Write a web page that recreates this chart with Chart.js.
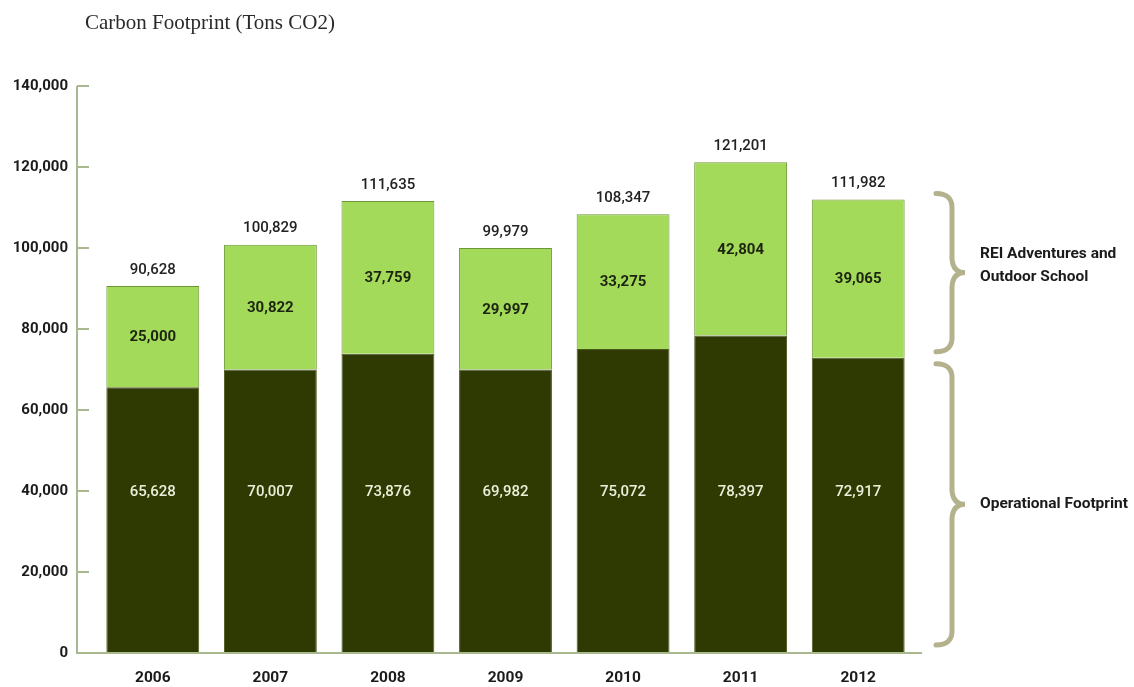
<!DOCTYPE html>
<html>
<head>
<meta charset="utf-8">
<script src="https://cdn.jsdelivr.net/npm/chart.js@4/dist/chart.umd.min.js"></script>
<style>
  html, body { margin: 0; padding: 0; background: #fff; }
  #wrap { width: 1134px; height: 687px; position: relative; }
</style>
</head>
<body>
<div id="wrap"><canvas id="carbonChart"></canvas></div>
<script>
// datos
const years = ['2006', '2007', '2008', '2009', '2010', '2011', '2012'];
const operational = [65628, 70007, 73876, 69982, 75072, 78397, 72917];
const adventures = [25000, 30822, 37759, 29997, 33275, 42804, 39065];
const totals = [90628, 100829, 111635, 99979, 108347, 121201, 111982];
const yTicks = [0, 20000, 40000, 60000, 80000, 100000, 120000, 140000];
const seriesNames = ['Operational Footprint', ['REI Adventures and', 'Outdoor School']];

const NUM_FONT = 'Roboto, "DejaVu Sans", sans-serif';
const AXIS_COLOR = '#a9b98f';
const BRACE_COLOR = '#b4b28c';

function fmt(v) { return v.toLocaleString('en-US'); }

// MARK: eje, títulos, etiquetas y llaves
const annotations = {
  id: 'annotations',
  afterDatasetsDraw(chart) {
    const ctx = chart.ctx;
    const area = chart.chartArea;
    const y = chart.scales.y;
    const axisX = area.left - 17;

    ctx.save();
    // eje Y con marcas hacia dentro
    ctx.strokeStyle = AXIS_COLOR;
    ctx.lineWidth = 2;
    ctx.beginPath();
    ctx.moveTo(axisX, y.getPixelForValue(140000));
    ctx.lineTo(axisX, area.bottom);
    ctx.lineTo(area.right + 5, area.bottom);
    yTicks.forEach(t => {
      if (t === 0) return;
      const py = y.getPixelForValue(t);
      ctx.moveTo(axisX, py);
      ctx.lineTo(axisX + 12, py);
    });
    ctx.stroke();

    // título
    ctx.fillStyle = '#2a2a2a';
    ctx.font = '21px "Liberation Serif", serif';
    ctx.textAlign = 'left';
    ctx.textBaseline = 'middle';
    ctx.fillText('Carbon Footprint (Tons CO2)', 85, 23);

    // valores de las barras
    const darkMeta = chart.getDatasetMeta(0);
    const lightMeta = chart.getDatasetMeta(1);
    ctx.textAlign = 'center';
    darkMeta.data.forEach((bar, i) => {
      ctx.fillStyle = '#e9efd9';
      ctx.font = '500 15px ' + NUM_FONT;
      ctx.fillText(fmt(operational[i]), bar.x, y.getPixelForValue(40000) + 1);

      const lb = lightMeta.data[i];
      ctx.fillStyle = '#1d2410';
      ctx.font = 'bold 15px ' + NUM_FONT;
      ctx.fillText(fmt(adventures[i]), lb.x, (lb.y + lb.base) / 2 + 1);

      ctx.fillStyle = '#222';
      ctx.font = '500 15px ' + NUM_FONT;
      ctx.fillText(fmt(totals[i]), lb.x, lb.y - 16);
    });

    // llaves a la derecha, según la última barra
    const last = years.length - 1;
    const bx = area.right + 22;
    const upTop = y.getPixelForValue(totals[last]) - 6;
    const upBottom = y.getPixelForValue(operational[last]) - 6;
    const lowTop = y.getPixelForValue(operational[last]) + 6;
    const lowBottom = area.bottom - 8;
    drawBrace(ctx, bx, upTop, upBottom);
    drawBrace(ctx, bx, lowTop, lowBottom);

    ctx.fillStyle = '#1b1b1b';
    ctx.font = 'bold 15.5px ' + NUM_FONT;
    ctx.textAlign = 'left';
    const upMid = (upTop + upBottom) / 2;
    ctx.fillText(seriesNames[1][0], bx + 41, upMid - 18);
    ctx.fillText(seriesNames[1][1], bx + 41, upMid + 5);
    ctx.fillText(seriesNames[0], bx + 41, (lowTop + lowBottom) / 2);
    ctx.restore();
  }
};

function drawBrace(ctx, x, top, bottom) {
  const mid = (top + bottom) / 2;
  const w = 14;
  ctx.strokeStyle = BRACE_COLOR;
  ctx.lineWidth = 5;
  ctx.lineCap = 'round';
  ctx.beginPath();
  ctx.moveTo(x - 3, top);
  ctx.quadraticCurveTo(x + w, top, x + w - 1, top + 16);
  ctx.lineTo(x + w - 1, mid - 14);
  ctx.quadraticCurveTo(x + w, mid, x + w + 12, mid);
  ctx.quadraticCurveTo(x + w, mid, x + w - 1, mid + 14);
  ctx.lineTo(x + w - 1, bottom - 16);
  ctx.quadraticCurveTo(x + w, bottom, x - 3, bottom);
  ctx.stroke();
}

document.addEventListener('DOMContentLoaded', function() {
  const ctx = document.getElementById('carbonChart').getContext('2d');

  window.carbonChart = new Chart(ctx, {
    type: 'bar',
    data: {
      labels: years,
      datasets: [
        {
          label: seriesNames[0],
          data: operational,
          backgroundColor: '#2f3a03',
          borderColor: '#4a5a1c',
          borderWidth: 1,
          barPercentage: 0.79,
          categoryPercentage: 1
        },
        {
          label: seriesNames[1].join(' '),
          data: adventures,
          backgroundColor: '#a4da59',
          borderColor: '#6d9637',
          borderWidth: 1,
          barPercentage: 0.79,
          categoryPercentage: 1
        }
      ]
    },
    options: {
      responsive: true,
      maintainAspectRatio: false,
      animation: false,
      layout: { padding: { top: 86, right: 217, left: 0, bottom: 0 } },
      plugins: {
        legend: { display: false },
        tooltip: { enabled: false }
      },
      scales: {
        x: {
          stacked: true,
          grid: { display: false },
          border: { display: false },
          ticks: {
            color: '#1b1b1b',
            font: { family: NUM_FONT, size: 15.5, weight: 'bold' },
            padding: 8
          },
          afterFit: s => { s.height = 34; }
        },
        y: {
          stacked: true,
          min: 0,
          max: 140000,
          afterBuildTicks: s => { s.ticks = yTicks.map(v => ({ value: v })); },
          grid: { display: false },
          border: { display: false },
          ticks: {
            color: '#1b1b1b',
            font: { family: NUM_FONT, size: 15, weight: 'bold' },
            padding: 18,
            callback: v => fmt(v)
          },
          afterFit: s => { s.width = 94; }
        }
      }
    },
    plugins: [annotations]
  });
});
</script>
</body>
</html>
